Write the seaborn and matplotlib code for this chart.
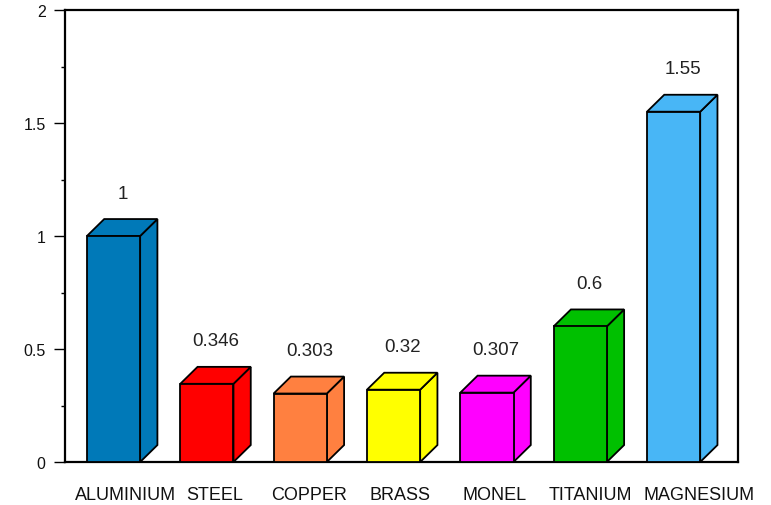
import numpy as np
import pandas as pd
import matplotlib
matplotlib.use("Agg")
import matplotlib.pyplot as plt
import seaborn as sns
from matplotlib.patches import Polygon
from matplotlib.ticker import MultipleLocator

# ---- data ----
materials = ["ALUMINIUM", "STEEL", "COPPER", "BRASS", "MONEL", "TITANIUM", "MAGNESIUM"]
values = [1.0, 0.346, 0.303, 0.32, 0.307, 0.6, 1.55]
value_labels = ["1", "0.346", "0.303", "0.32", "0.307", "0.6", "1.55"]
colors = ["#0079B8", "#FF0000", "#FF8040", "#FFFF00", "#FF00FF", "#00C000", "#48B6F6"]
y_ticks = [0, 0.5, 1, 1.5, 2]
y_tick_labels = ["0", "0.5", "1", "1.5", "2"]

df = pd.DataFrame({"material": materials, "value": values})

sns.set_style("white")
plt.rcParams["font.family"] = ["Liberation Sans", "DejaVu Sans"]

fig = plt.figure(figsize=(7.71, 5.06), dpi=100)
ax = fig.add_axes([65 / 771, 1 - 463 / 506, (738 - 65) / 771, (463 - 11) / 506])

sns.barplot(data=df, x="material", y="value", hue="material", palette=colors,
            saturation=1, width=0.57, edgecolor="black", linewidth=1.3,
            legend=False, dodge=False, ax=ax, zorder=3)

# 3-D depth (in data units)
dx = 0.185
dy = 0.075

for p, lab in zip(ax.patches, value_labels):
    x0 = p.get_x()
    w = p.get_width()
    h = p.get_height()
    fc = p.get_facecolor()
    x1 = x0 + w
    side = Polygon([(x1, 0), (x1 + dx, dy), (x1 + dx, h + dy), (x1, h)],
                   closed=True, facecolor=fc, edgecolor="black", linewidth=1.3,
                   zorder=2, clip_on=False)
    top = Polygon([(x0, h), (x0 + dx, h + dy), (x1 + dx, h + dy), (x1, h)],
                  closed=True, facecolor=fc, edgecolor="black", linewidth=1.3,
                  zorder=2, clip_on=False)
    ax.add_patch(side)
    ax.add_patch(top)
    ax.text(x0 + w / 2 + 0.1, h + dy + 0.115, lab, ha="center", va="center",
            fontsize=13.5, color="#222222")

ax.set_xlim(-0.52, 6.69)
ax.set_ylim(0, 2)

label_offsets = [0.13, 0.08, 0.09, 0.07, 0.08, 0.11, 0.27]
ax.set_xticks(np.arange(len(materials)) + np.array(label_offsets))
ax.set_xticklabels(materials, fontsize=13, color="#111111")
ax.tick_params(axis="x", length=0, pad=17)

ax.set_yticks(y_ticks)
ax.set_yticklabels(y_tick_labels, fontsize=11.5, color="#111111")
ax.yaxis.set_minor_locator(MultipleLocator(0.25))
ax.tick_params(axis="y", which="major", left=True, length=8, width=1.0, pad=6, color="black")
ax.tick_params(axis="y", which="minor", left=True, length=3, width=1.0, color="black")

ax.set_xlabel("")
ax.set_ylabel("")
for s in ax.spines.values():
    s.set_visible(True)
    s.set_color("black")
    s.set_linewidth(1.6)

fig.savefig("out.png", dpi=100)
